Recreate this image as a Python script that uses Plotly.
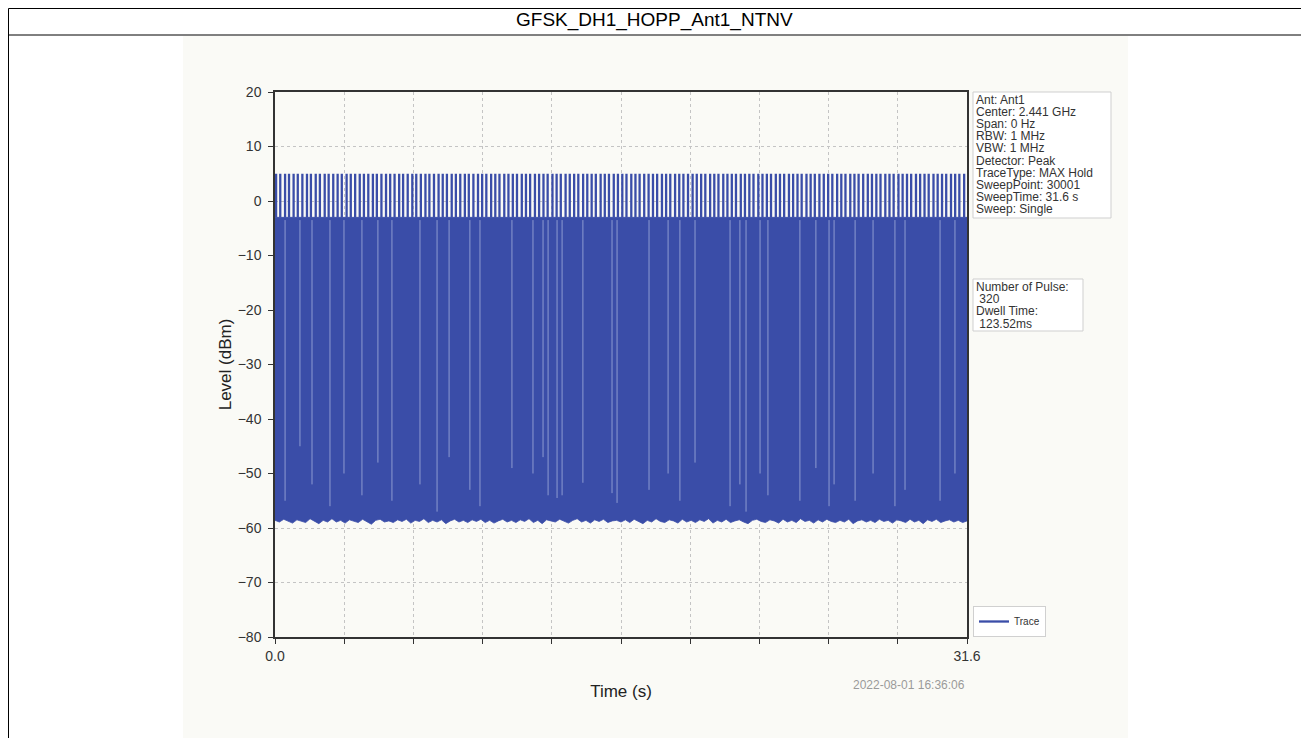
import plotly.graph_objects as go

W, H = 1309, 738
OFF = 8  # the page body margin shifts the figure by this many pixels
FONT = "Liberation Sans, Arial, sans-serif"
BLUE = "#3A4DA8"

# ---------------- data ----------------
TITLE = "GFSK_DH1_HOPP_Ant1_NTNV"
X_RANGE = [0.0, 31.6]
Y_RANGE = [-80, 20]
x_tickvals = [0.0, 3.16, 6.32, 9.48, 12.64, 15.8, 18.96, 22.12, 25.28, 28.44, 31.6]
x_ticktext = ["0.0", "", "", "", "", "", "", "", "", "", "31.6"]
y_tickvals = [-80, -70, -60, -50, -40, -30, -20, -10, 0, 10, 20]

pulse_peak_level = 5.0       # dBm, level of the hop pulses
adjacent_level = -3.0        # dBm, top of the dense band
spike_times = [
    0.05, 0.24, 0.46, 0.64, 0.85, 1.04, 1.25, 1.46, 1.64, 1.86, 2.05, 2.27, 2.45, 2.66, 2.86,
    3.05, 3.27, 3.46, 3.66, 3.87, 4.06, 4.26, 4.47, 4.65, 4.86, 5.07, 5.26, 5.46, 5.67, 5.85,
    6.06, 6.27, 6.45, 6.66, 6.87, 7.05, 7.26, 7.47, 7.66, 7.85, 8.07, 8.26, 8.46, 8.67, 8.85,
    9.06, 9.27, 9.46, 9.65, 9.87, 10.06, 10.25, 10.47, 10.66, 10.86, 11.05, 11.27, 11.46, 11.65,
    11.87, 12.06, 12.26, 12.45, 12.67, 12.86, 13.05, 13.27, 13.46, 13.66, 13.85, 14.07, 14.26,
    14.46, 14.65, 14.87, 15.06, 15.25, 15.47, 15.66, 15.86, 16.05, 16.27, 16.46, 16.65, 16.86,
    17.06, 17.26, 17.45, 17.67, 17.86, 18.05, 18.27, 18.46, 18.65, 18.86, 19.07, 19.26, 19.46,
    19.65, 19.87, 20.06, 20.25, 20.47, 20.66, 20.86, 21.05, 21.27, 21.46, 21.66, 21.85, 22.07,
    22.26, 22.46, 22.65, 22.87, 23.06, 23.25, 23.47, 23.66, 23.86, 24.05, 24.27, 24.46, 24.65,
    24.86, 25.06, 25.26, 25.45, 25.67, 25.86, 26.05, 26.27, 26.46, 26.65, 26.86, 27.07, 27.26,
    27.46, 27.65, 27.87, 28.06, 28.25, 28.47, 28.66, 28.86, 29.05, 29.27, 29.46, 29.66, 29.85,
    30.07, 30.26, 30.46, 30.65, 30.87, 31.06, 31.25, 31.47,
]

floor_times = [
    0.0, 0.2, 0.4, 0.6, 0.8, 1.0, 1.2, 1.4, 1.6, 1.8, 2.0, 2.2, 2.4, 2.6, 2.8, 3.0, 3.2, 3.4,
    3.6, 3.8, 4.0, 4.2, 4.4, 4.6, 4.8, 5.0, 5.2, 5.4, 5.6, 5.8, 6.0, 6.2, 6.4, 6.6, 6.8, 7.0,
    7.2, 7.4, 7.6, 7.8, 8.0, 8.2, 8.4, 8.6, 8.8, 9.0, 9.2, 9.4, 9.6, 9.8, 10.0, 10.2, 10.4,
    10.6, 10.8, 11.0, 11.2, 11.4, 11.6, 11.8, 12.0, 12.2, 12.4, 12.6, 12.8, 13.0, 13.2, 13.4,
    13.6, 13.8, 14.0, 14.2, 14.4, 14.6, 14.8, 15.0, 15.2, 15.4, 15.6, 15.8, 16.0, 16.2, 16.4,
    16.6, 16.8, 17.0, 17.2, 17.4, 17.6, 17.8, 18.0, 18.2, 18.4, 18.6, 18.8, 19.0, 19.2, 19.4,
    19.6, 19.8, 20.0, 20.2, 20.4, 20.6, 20.8, 21.0, 21.2, 21.4, 21.6, 21.8, 22.0, 22.2, 22.4,
    22.6, 22.8, 23.0, 23.2, 23.4, 23.6, 23.8, 24.0, 24.2, 24.4, 24.6, 24.8, 25.0, 25.2, 25.4,
    25.6, 25.8, 26.0, 26.2, 26.4, 26.6, 26.8, 27.0, 27.2, 27.4, 27.6, 27.8, 28.0, 28.2, 28.4,
    28.6, 28.8, 29.0, 29.2, 29.4, 29.6, 29.8, 30.0, 30.2, 30.4, 30.6, 30.8, 31.0, 31.2, 31.4,
    31.6,
]
floor_levels = [
    -58.6, -58.9, -58.4, -58.8, -59.1, -58.5, -58.7, -59.0, -58.3, -58.8, -59.2, -58.6, -58.9,
    -58.3, -58.9, -58.6, -59.1, -58.5, -58.8, -59.0, -58.4, -58.8, -59.3, -58.6, -58.4, -58.9,
    -58.7, -59.0, -58.5, -58.8, -58.4, -59.1, -58.6, -58.8, -58.3, -59.0, -58.6, -58.9, -58.5,
    -59.2, -58.7, -58.4, -58.9, -58.6, -59.0, -58.5, -58.8, -58.4, -59.0, -58.6, -59.1, -58.7,
    -58.4, -58.9, -58.6, -59.0, -58.5, -58.8, -58.3, -59.0, -58.6, -59.2, -58.5, -58.7, -58.9,
    -58.4, -58.8, -59.1, -58.6, -58.3, -58.9, -58.6, -59.1, -58.5, -58.8, -58.4, -59.0, -58.7,
    -58.6, -58.9, -58.5, -59.0, -58.4, -58.8, -59.2, -58.6, -58.9, -58.3, -58.8, -59.0, -58.5,
    -58.7, -59.1, -58.4, -58.9, -58.6, -59.0, -58.5, -58.8, -58.3, -59.1, -58.6, -58.9, -58.4,
    -59.0, -58.7, -58.5, -58.9, -59.2, -58.6, -58.4, -58.8, -59.0, -58.5, -58.7, -59.1, -58.4,
    -58.9, -58.6, -59.0, -58.3, -58.8, -58.6, -59.1, -58.5, -58.9, -58.4, -58.8, -59.0, -58.6,
    -58.9, -58.4, -59.2, -58.7, -58.5, -58.9, -58.6, -59.0, -58.4, -58.8, -58.6, -59.1, -58.5,
    -58.7, -59.0, -58.4, -58.9, -58.6, -59.2, -58.5, -58.8, -58.4, -59.0, -58.7, -58.5, -58.9,
    -58.6, -59.0, -58.7,
]

# light vertical gaps in the dense band: time and lowest level of the gap
gap_times = [0.46, 1.14, 1.69, 2.51, 3.15, 3.97, 4.70, 5.34, 6.62, 7.40, 7.95, 8.90, 9.36,
             10.82, 11.78, 12.24, 12.47, 12.88, 13.11, 14.06, 15.39, 15.62, 17.08, 17.95,
             18.49, 19.18, 20.78, 21.23, 21.51, 22.15, 22.51, 23.97, 24.70, 25.30, 25.53,
             26.49, 27.31, 28.31, 28.77, 30.37, 31.05]
gap_depths = [-55, -45, -52, -56, -50, -54, -48, -55, -52, -57, -47, -53, -56,
              -49, -50, -47, -54, -54.5, -54, -51.7, -53.6, -55.4, -53, -50,
              -55, -48, -56, -52, -57, -50, -54, -55, -49, -56, -52,
              -55, -50, -56, -53, -55, -50]

INFO_LINES = ["Ant: Ant1", "Center: 2.441 GHz", "Span: 0 Hz", "RBW: 1 MHz", "VBW: 1 MHz",
              "Detector: Peak", "TraceType: MAX Hold", "SweepPoint: 30001",
              "SweepTime: 31.6 s", "Sweep: Single"]
PULSE_LINES = ["Number of Pulse:", "\u00a0320", "Dwell Time:", "\u00a0123.52ms"]
TIMESTAMP = "2022-08-01 16:36:06"


def px(x):
    return (x - OFF) / W


def py(y):
    return 1 - (y - OFF) / H


# ---------------- traces ----------------
fig = go.Figure()

band_x = floor_times + [X_RANGE[1], X_RANGE[0]]
band_y = floor_levels + [adjacent_level, adjacent_level]
fig.add_trace(go.Scatter(x=band_x, y=band_y, mode="lines", fill="toself",
                         fillcolor=BLUE, line=dict(width=0.8, color=BLUE),
                         showlegend=False, hoverinfo="skip"))

sx, sy = [], []
for t in spike_times:
    sx += [t, t, None]
    sy += [adjacent_level, pulse_peak_level, None]
fig.add_trace(go.Scatter(x=sx, y=sy, mode="lines", name="Trace",
                         line=dict(width=2.3, color=BLUE), showlegend=True))

gx, gy = [], []
for t, d in zip(gap_times, gap_depths):
    gx += [t, t, None]
    gy += [adjacent_level - 0.5, d, None]
fig.add_trace(go.Scatter(x=gx, y=gy, mode="lines",
                         line=dict(width=1, color="rgba(210,218,242,0.55)"),
                         showlegend=False, hoverinfo="skip"))

# ---------------- layout ----------------
EDGE = OFF + 0.5
shapes = [
    dict(type="rect", xref="paper", yref="paper", x0=px(183), x1=px(1128), y0=py(746), y1=py(36),
         fillcolor="#FAFAF6", line=dict(width=0), layer="below"),
    dict(type="line", xref="paper", yref="paper", x0=px(EDGE), x1=px(1306), y0=py(EDGE), y1=py(EDGE),
         line=dict(color="black", width=1)),
    dict(type="line", xref="paper", yref="paper", x0=px(EDGE), x1=px(1306), y0=py(35), y1=py(35),
         line=dict(color="black", width=1)),
    dict(type="line", xref="paper", yref="paper", x0=px(EDGE), x1=px(EDGE), y0=py(EDGE), y1=py(746),
         line=dict(color="black", width=1)),
    dict(type="line", xref="paper", yref="paper", x0=px(1306), x1=px(1306), y0=py(EDGE), y1=py(746),
         line=dict(color="black", width=1)),
    dict(type="rect", xref="paper", yref="paper", x0=px(973), x1=px(1111), y0=py(218), y1=py(92),
         fillcolor="white", line=dict(color="#CFCFCF", width=1)),
    dict(type="rect", xref="paper", yref="paper", x0=px(973), x1=px(1083), y0=py(331), y1=py(279),
         fillcolor="white", line=dict(color="#CFCFCF", width=1)),
]

annotations = [
    dict(text=TITLE, x=px(654.5), y=py(20.5), xref="paper", yref="paper", showarrow=False,
         xanchor="center", yanchor="middle", font=dict(family=FONT, size=19, color="black")),
    dict(text=TIMESTAMP, x=px(967), y=py(685), xref="paper", yref="paper", showarrow=False,
         xanchor="right", yanchor="middle", font=dict(family=FONT, size=12, color="#9A9A9A")),
]
for i, line in enumerate(INFO_LINES):
    annotations.append(dict(text=line, x=px(975), y=py(99.5 + 12.2 * i), xref="paper", yref="paper",
                            showarrow=False, xanchor="left", yanchor="middle", borderpad=0,
                            font=dict(family=FONT, size=12, color="#333333")))
for i, line in enumerate(PULSE_LINES):
    annotations.append(dict(text=line, x=px(975), y=py(287 + 12.2 * i), xref="paper", yref="paper",
                            showarrow=False, xanchor="left", yanchor="middle", borderpad=0,
                            font=dict(family=FONT, size=12, color="#333333")))

axis_common = dict(showline=True, linecolor="#333333", linewidth=1.5, mirror=True,
                   ticks="outside", ticklen=5, tickcolor="#333333", tickwidth=1.2,
                   showgrid=True, gridcolor="#C4C4C4", griddash="dot", gridwidth=1,
                   zeroline=False, automargin=False,
                   tickfont=dict(family=FONT, size=14, color="#333333"))

fig.update_layout(
    width=W, height=H, autosize=False,
    margin=dict(l=0, r=0, t=0, b=0, pad=0, autoexpand=False),
    paper_bgcolor="white", plot_bgcolor="#FEFEFD",
    font=dict(family=FONT),
    xaxis=dict(domain=[px(275), px(967)], range=X_RANGE, tickmode="array",
               tickvals=x_tickvals, ticktext=x_ticktext,
               title=dict(text="Time (s)", standoff=23,
                          font=dict(family=FONT, size=17, color="#222222")),
               **axis_common),
    yaxis=dict(domain=[py(637), py(92)], range=Y_RANGE, tickmode="array",
               tickvals=y_tickvals, ticklabelstandoff=4,
               title=dict(text="Level (dBm)", standoff=2,
                          font=dict(family=FONT, size=17, color="#222222")),
               **axis_common),
    legend=dict(x=px(973), y=py(637), xanchor="left", yanchor="bottom",
                bgcolor="white", bordercolor="#D0D0D0", borderwidth=1,
                font=dict(family=FONT, size=10, color="#333333"), itemwidth=30,
                tracegroupgap=0),
    shapes=shapes,
    annotations=annotations,
)

fig.write_html("out.html")
